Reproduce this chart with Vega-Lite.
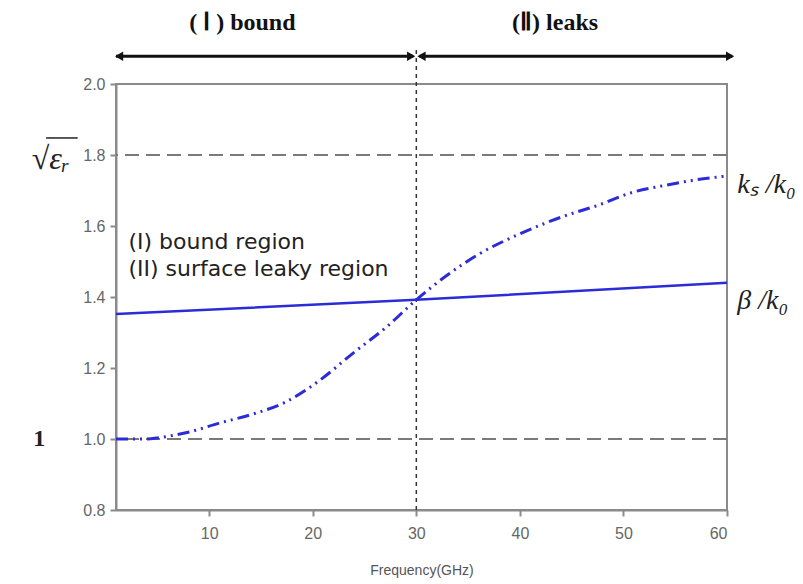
{
  "$schema": "https://vega.github.io/schema/vega-lite/v6.json",
  "autosize": "none",
  "width": 611,
  "height": 426,
  "padding": {"left": 116, "top": 84, "right": 76, "bottom": 74},
  "background": "white",
  "config": {
    "view": {"stroke": "#8a8a8a", "strokeWidth": 2},
    "axis": {
      "grid": false,
      "domainColor": "#8a8a8a",
      "domainWidth": 2,
      "tickColor": "#8a8a8a",
      "tickWidth": 2,
      "tickSize": 6,
      "labelColor": "#666666",
      "labelFont": "Liberation Sans",
      "labelFontSize": 16,
      "titleFont": "Liberation Sans",
      "titleColor": "#555555",
      "titleFontSize": 14,
      "titleFontWeight": "normal"
    }
  },
  "datasets": {
    "beta": [
      {"f": 1, "v": 1.352},
      {"f": 30, "v": 1.392},
      {"f": 60, "v": 1.44}
    ],
    "ks": [
      {"f": 1, "v": 1.0},
      {"f": 4, "v": 1.0},
      {"f": 5.2, "v": 1.004},
      {"f": 8.1, "v": 1.02},
      {"f": 11, "v": 1.045},
      {"f": 14.2, "v": 1.07},
      {"f": 17.5, "v": 1.106},
      {"f": 20.7, "v": 1.166},
      {"f": 23.9, "v": 1.242},
      {"f": 27.1, "v": 1.315},
      {"f": 30, "v": 1.392},
      {"f": 33, "v": 1.462},
      {"f": 36, "v": 1.52},
      {"f": 40, "v": 1.578},
      {"f": 44, "v": 1.625},
      {"f": 47.7, "v": 1.66},
      {"f": 50.9, "v": 1.695},
      {"f": 54.1, "v": 1.715},
      {"f": 57, "v": 1.73},
      {"f": 60, "v": 1.741}
    ],
    "hlines": [{"v": 1.8}, {"v": 1.0}],
    "arrows": [
      {"f": 1, "f2": 29.7, "v": 2.078},
      {"f": 30.3, "f2": 60.5, "v": 2.078}
    ],
    "heads": [
      {"f": 1.3, "v": 2.078, "dir": "left"},
      {"f": 29.5, "v": 2.078, "dir": "right"},
      {"f": 30.5, "v": 2.078, "dir": "left"},
      {"f": 60.3, "v": 2.078, "dir": "right"}
    ],
    "vline": [{"f": 30, "v": 0.8, "v2": 2.104}],
    "toptext": [
      {"f": 13.2, "v": 2.172, "t": "( Ⅰ ) bound"},
      {"f": 43.4, "v": 2.172, "t": "(Ⅱ) leaks"}
    ],
    "regions": [
      {"f": 2.2, "v": 1.555, "t": "(I) bound region"},
      {"f": 2.2, "v": 1.479, "t": "(II) surface leaky region"}
    ],
    "rlabels": [
      {"f": 61, "v": 1.715, "t": "kₛ /k₀"},
      {"f": 61, "v": 1.39, "t": "β /k₀"}
    ],
    "llabels": [
      {"f": -5.3, "v": 1.79, "t": "√εᵣ"}
    ],
    "overline": [
      {"f": -5.75, "f2": -2.7, "v": 1.848}
    ],
    "one": [
      {"f": -6.4, "v": 1.0, "t": "1"}
    ]
  },
  "layer": [
    {
      "data": {"name": "hlines"},
      "mark": {"type": "rule", "color": "#7a7a7a", "strokeWidth": 2, "strokeDash": [14, 7]},
      "encoding": {
        "y": {
          "field": "v",
          "type": "quantitative",
          "scale": {"domain": [0.8, 2.0], "nice": false, "zero": false},
          "axis": {"values": [0.8, 1.0, 1.2, 1.4, 1.6, 1.8, 2.0], "format": ".1f", "title": null, "labelPadding": 5}
        }
      }
    },
    {
      "data": {"name": "vline"},
      "mark": {"type": "rule", "color": "#333333", "strokeWidth": 1.5, "strokeDash": [4, 4]},
      "encoding": {
        "x": {
          "field": "f",
          "type": "quantitative",
          "scale": {"domain": [1, 60], "nice": false, "zero": false},
          "axis": {"values": [10, 20, 30, 40, 50, 60], "title": "Frequency(GHz)", "labelPadding": 9, "titlePadding": 22}
        },
        "y": {"field": "v", "type": "quantitative"},
        "y2": {"field": "v2"}
      }
    },
    {
      "data": {"name": "beta"},
      "mark": {"type": "line", "color": "#2b2bd8", "strokeWidth": 2.5},
      "encoding": {
        "x": {"field": "f", "type": "quantitative"},
        "y": {"field": "v", "type": "quantitative"}
      }
    },
    {
      "data": {"name": "ks"},
      "mark": {"type": "line", "color": "#2b2bd8", "strokeWidth": 3, "strokeDash": [12, 5, 2, 5, 2, 5], "interpolate": "monotone"},
      "encoding": {
        "x": {"field": "f", "type": "quantitative"},
        "y": {"field": "v", "type": "quantitative"}
      }
    },
    {
      "data": {"name": "arrows"},
      "mark": {"type": "rule", "color": "#111111", "strokeWidth": 3},
      "encoding": {
        "x": {"field": "f", "type": "quantitative"},
        "x2": {"field": "f2"},
        "y": {"field": "v", "type": "quantitative"}
      }
    },
    {
      "data": {"name": "heads"},
      "mark": {"type": "point", "filled": true, "color": "#111111", "size": 90, "opacity": 1},
      "encoding": {
        "x": {"field": "f", "type": "quantitative"},
        "y": {"field": "v", "type": "quantitative"},
        "shape": {
          "field": "dir",
          "type": "nominal",
          "scale": {"domain": ["left", "right"], "range": ["triangle-left", "triangle-right"]},
          "legend": null
        }
      }
    },
    {
      "data": {"name": "toptext"},
      "mark": {"type": "text", "font": "Liberation Sans Narrow", "fontWeight": "bold", "fontSize": 24, "color": "#111111", "align": "center", "baseline": "middle"},
      "encoding": {
        "x": {"field": "f", "type": "quantitative"},
        "y": {"field": "v", "type": "quantitative"},
        "text": {"field": "t"}
      }
    },
    {
      "data": {"name": "regions"},
      "mark": {"type": "text", "font": "DejaVu Sans", "fontSize": 22, "color": "#222222", "align": "left", "baseline": "middle"},
      "encoding": {
        "x": {"field": "f", "type": "quantitative"},
        "y": {"field": "v", "type": "quantitative"},
        "text": {"field": "t"}
      }
    },
    {
      "data": {"name": "rlabels"},
      "mark": {"type": "text", "font": "Liberation Serif", "fontStyle": "italic", "fontSize": 28, "color": "#222222", "align": "left", "baseline": "middle"},
      "encoding": {
        "x": {"field": "f", "type": "quantitative"},
        "y": {"field": "v", "type": "quantitative"},
        "text": {"field": "t"}
      }
    },
    {
      "data": {"name": "llabels"},
      "mark": {"type": "text", "font": "Liberation Serif", "fontStyle": "italic", "fontSize": 32, "color": "#222222", "align": "center", "baseline": "middle"},
      "encoding": {
        "x": {"field": "f", "type": "quantitative"},
        "y": {"field": "v", "type": "quantitative"},
        "text": {"field": "t"}
      }
    },
    {
      "data": {"name": "overline"},
      "mark": {"type": "rule", "color": "#222222", "strokeWidth": 1.5},
      "encoding": {
        "x": {"field": "f", "type": "quantitative"},
        "x2": {"field": "f2"},
        "y": {"field": "v", "type": "quantitative"}
      }
    },
    {
      "data": {"name": "one"},
      "mark": {"type": "text", "font": "Liberation Serif", "fontWeight": "bold", "fontSize": 24, "color": "#222222", "align": "center", "baseline": "middle"},
      "encoding": {
        "x": {"field": "f", "type": "quantitative"},
        "y": {"field": "v", "type": "quantitative"},
        "text": {"field": "t"}
      }
    }
  ]
}
